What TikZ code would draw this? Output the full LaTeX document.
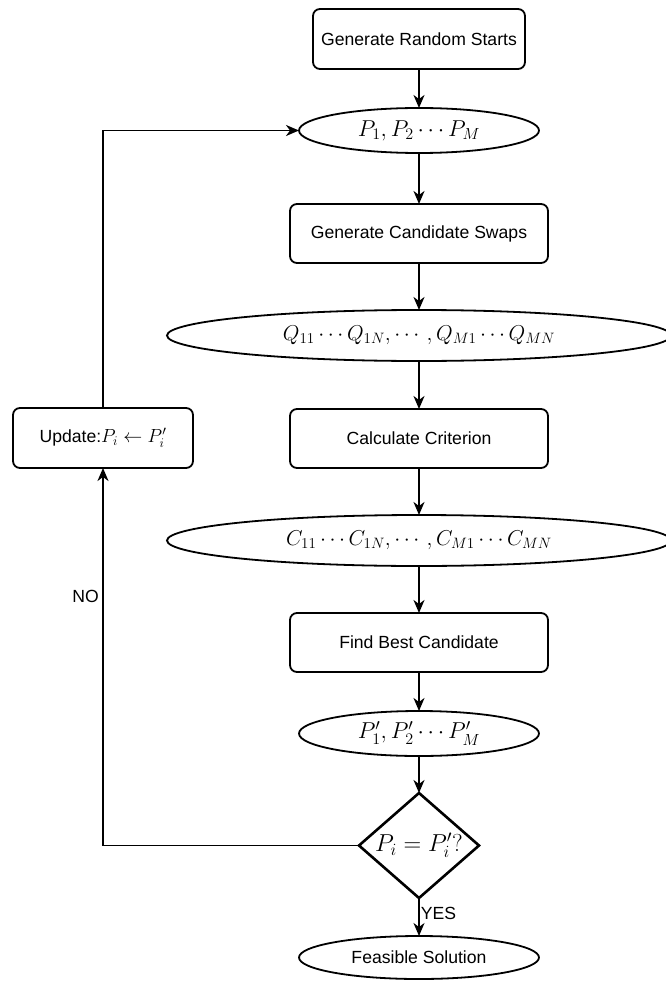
\RequirePackage{fix-cm}
\documentclass[tikz,border=0pt]{standalone}
\usepackage[no-math]{fontspec}
\setmainfont{Liberation Sans}
\usepackage{amsmath,amssymb}
\usetikzlibrary{shapes.geometric,positioning,arrows.meta}

\newcommand{\mathsz}[1]{\fontsize{#1}{1.2\dimexpr #1pt\relax}\selectfont}

\begin{document}
\begin{tikzpicture}[x=1pt,y=1pt,>={Stealth[length=13pt,width=11pt,inset=4pt]},
    line width=1.8pt,font=\fontsize{17.6}{21}\selectfont,
    proc/.style={draw,rounded corners=7pt,minimum width=258pt,minimum height=59pt,inner sep=0pt,outer sep=0pt},
    data/.style={draw,ellipse,minimum width=240pt,minimum height=45pt,inner sep=0pt,outer sep=0pt},
    wide/.style={data,minimum width=504pt,minimum height=51pt},
    test/.style={draw,diamond,aspect=1.25,line width=2.6pt,minimum width=120pt,minimum height=105pt,inner sep=0pt,outer sep=0pt}]
    \useasboundingbox (0,0) rectangle (665,-981);
    \node[proc,minimum width=212pt,minimum height=60pt] (start) at (419,-39) {Generate Random Starts};
    \node[data,font=\mathsz{23},below=39pt of start] (pinit) {$P_1,P_2\cdots P_M$};
    \node[proc,below=51pt of pinit] (swaps) {Generate Candidate Swaps};
    \node[wide,font=\mathsz{21.5},below=47pt of swaps] (qset) {$Q_{11}\cdots Q_{1N},\cdots,Q_{M1}\cdots Q_{MN}$};
    \node[proc,below=48pt of qset] (crit) {Calculate Criterion};
    \node[wide,font=\mathsz{21.5},below=47pt of crit] (cset) {$C_{11}\cdots C_{1N},\cdots,C_{M1}\cdots C_{MN}$};
    \node[proc,below=47pt of cset] (best) {Find Best Candidate};
    \node[data,font=\mathsz{23},below=39pt of best] (pnew) {$P'_1,P'_2\cdots P'_M$};
    \node[test,font=\mathsz{24.5},below=37pt of pnew] (check) {$P_i=P'_i?$};
    \node[data,minimum height=43pt,below=38pt of check] (feas) {Feasible Solution};
    \node[proc,minimum width=180pt,minimum height=60pt] (update) at (103,-438) {Update:{\mathsz{19}$P_i\leftarrow P'_i$}};

    \draw[->] (start) -- (pinit);
    \draw[->] (pinit) -- (swaps);
    \draw[->] (swaps) -- (qset);
    \draw[->] (qset) -- (crit);
    \draw[->] (crit) -- (cset);
    \draw[->] (cset) -- (best);
    \draw[->] (best) -- (pnew);
    \draw[->] (pnew) -- (check);
    \draw[->] (check) -- node[right,pos=0.4,inner sep=1pt] {YES} (feas);
    \draw[->] (check.west) -| node[pos=0.83,left] {NO} (update.south);
    \draw[->] (update.north) |- (pinit.west);
\end{tikzpicture}
\end{document}
